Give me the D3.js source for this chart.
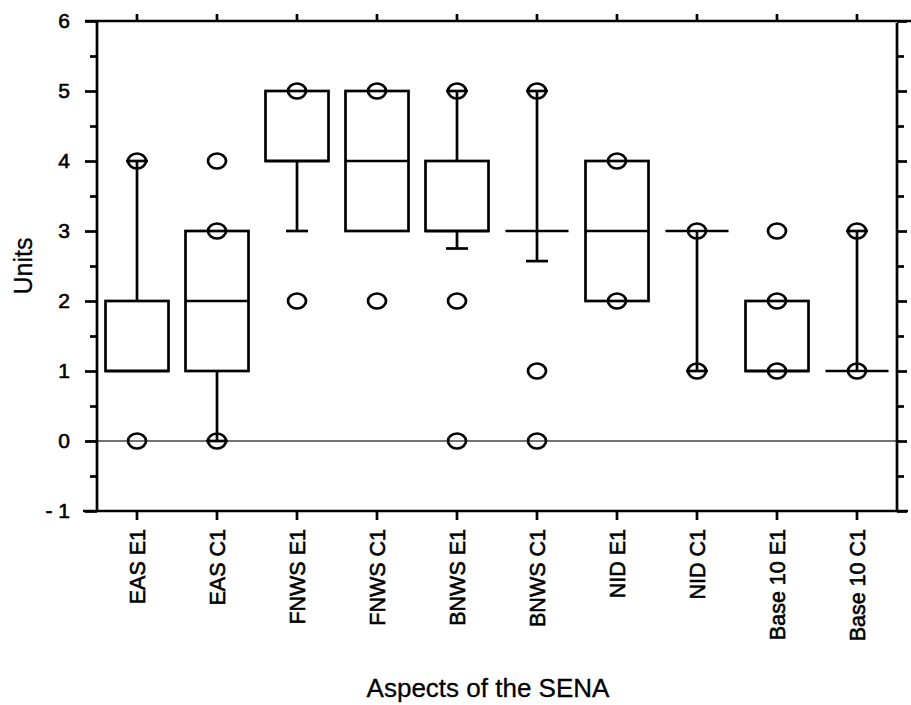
<!DOCTYPE html>
<html>
<head>
<meta charset="utf-8">
<script src="https://cdn.jsdelivr.net/npm/d3@7"></script>
<style>
  html, body { margin: 0; padding: 0; background: #fff; }
  svg { display: block; }
  text { font-family: "Liberation Sans", Arial, Helvetica, sans-serif; fill: #000; }
</style>
</head>
<body>
<svg id="chart" width="911" height="705"></svg>
<script>
// ---- data ----
const categories = ["EAS E1", "EAS C1", "FNWS E1", "FNWS C1", "BNWS E1", "BNWS C1", "NID E1", "NID C1", "Base 10 E1", "Base 10 C1"];
const q1Values = [1, 1, 4, 3, 3, 3, 2, 3, 1, 1];
const q3Values = [2, 3, 5, 5, 4, 3, 4, 3, 2, 1];
const medianValues = [1, 2, 4, 4, 3, 3, 3, 3, 1, 1];
const whiskerLow = [1, 0, 3, 3, 2.75, 2.57, 2, 1, 1, 1];
const whiskerHigh = [4, 3, 5, 5, 5, 5, 4, 3, 2, 3];
const outlierValues = [[0, 4], [0, 3, 4], [2, 5], [2, 5], [0, 2, 5], [0, 1, 5], [2, 4], [1, 3], [1, 2, 3], [1, 3]];
const yMajorTicks = [-1, 0, 1, 2, 3, 4, 5, 6];
const yMinorTicks = [-0.5, 0.5, 1.5, 2.5, 3.5, 4.5, 5.5];
const yTickLabels = ["- 1", "0", "1", "2", "3", "4", "5", "6"];
const xTitle = "Aspects of the SENA";
const yTitle = "Units";

// ---- layout ----
const svg = d3.select("#chart");
const mLeft = 97, mRight = 897, mTop = 21, mBottom = 511;
const lw = 2.7;

const x = d3.scaleBand().domain(categories).range([mLeft, mRight]).padding(0);
const y = d3.scaleLinear().domain([-1, 6]).range([mBottom, mTop]);
const cx = c => x(c) + x.bandwidth() / 2;

const boxW = 63, capW = 22;

// zero reference line
svg.append("line")
  .attr("x1", mLeft - 10).attr("x2", mRight)
  .attr("y1", y(0)).attr("y2", y(0))
  .attr("stroke", "#444").attr("stroke-width", 1.3);

// axes (ticks only)
function styleAxis(g) {
  g.select(".domain").remove();
  g.selectAll(".tick line").attr("stroke", "#000").attr("stroke-width", lw);
}
const fmt = d => yTickLabels[yMajorTicks.indexOf(d)];

const gl = svg.append("g").attr("transform", `translate(${mLeft},0)`)
  .call(d3.axisLeft(y).tickValues(yMajorTicks).tickSize(12).tickPadding(15).tickFormat(fmt));
styleAxis(gl);
gl.attr("font-size", 21).attr("font-family", "'Liberation Sans', Arial, sans-serif");
gl.selectAll(".tick text").attr("fill", "#000").attr("stroke", "#000").attr("stroke-width", 0.6);

const glm = svg.append("g").attr("transform", `translate(${mLeft},0)`)
  .call(d3.axisLeft(y).tickValues(yMinorTicks).tickSize(7).tickFormat(""));
styleAxis(glm);

const gr = svg.append("g").attr("transform", `translate(${mRight},0)`)
  .call(d3.axisRight(y).tickValues(yMajorTicks).tickSize(10).tickFormat(""));
styleAxis(gr);
const grm = svg.append("g").attr("transform", `translate(${mRight},0)`)
  .call(d3.axisRight(y).tickValues(yMinorTicks).tickSize(7).tickFormat(""));
styleAxis(grm);

const gt = svg.append("g").attr("transform", `translate(0,${mTop})`)
  .call(d3.axisTop(x).tickSize(7).tickFormat(""));
styleAxis(gt);
const gb = svg.append("g").attr("transform", `translate(0,${mBottom})`)
  .call(d3.axisBottom(x).tickSize(9).tickFormat(""));
styleAxis(gb);

// frame
const frame = svg.append("g").attr("stroke", "#000").attr("stroke-width", lw).attr("fill", "none");
frame.append("line").attr("x1", 85).attr("x2", 911).attr("y1", mTop).attr("y2", mTop);
frame.append("line").attr("x1", 83).attr("x2", 908).attr("y1", mBottom).attr("y2", mBottom);
frame.append("line").attr("x1", mLeft).attr("x2", mLeft).attr("y1", mTop).attr("y2", mBottom);
frame.append("line").attr("x1", mRight).attr("x2", mRight).attr("y1", mTop + 2).attr("y2", mBottom);

// boxes
const boxes = svg.append("g").attr("stroke", "#000").attr("stroke-width", lw).attr("fill", "none");
categories.forEach((c, i) => {
  const g = boxes.append("g");
  const xc = cx(c);
  const q1 = q1Values[i], q3 = q3Values[i];
  if (whiskerHigh[i] > q3) {
    g.append("line").attr("x1", xc).attr("x2", xc).attr("y1", y(q3)).attr("y2", y(whiskerHigh[i]));
    g.append("line").attr("x1", xc - capW / 2).attr("x2", xc + capW / 2).attr("y1", y(whiskerHigh[i])).attr("y2", y(whiskerHigh[i]));
  }
  if (whiskerLow[i] < q1) {
    g.append("line").attr("x1", xc).attr("x2", xc).attr("y1", y(q1)).attr("y2", y(whiskerLow[i]));
    g.append("line").attr("x1", xc - capW / 2).attr("x2", xc + capW / 2).attr("y1", y(whiskerLow[i])).attr("y2", y(whiskerLow[i]));
  }
  if (q3 > q1) {
    g.append("rect").attr("x", xc - boxW / 2).attr("width", boxW)
      .attr("y", y(q3)).attr("height", y(q1) - y(q3));
  }
  g.append("line").attr("x1", xc - boxW / 2).attr("x2", xc + boxW / 2)
    .attr("y1", y(medianValues[i])).attr("y2", y(medianValues[i]));
  g.selectAll("ellipse").data(outlierValues[i]).join("ellipse")
    .attr("cx", xc).attr("cy", d => y(d)).attr("rx", 9).attr("ry", 7.5);
});

// x labels
svg.append("g").selectAll("text").data(categories).join("text")
  .attr("transform", d => `translate(${cx(d)},529) rotate(-90)`)
  .attr("text-anchor", "end").attr("dy", "0.36em")
  .attr("font-size", 21.5).attr("stroke", "#000").attr("stroke-width", 0.6)
  .text(d => d);

// titles
svg.append("text").attr("x", 488).attr("y", 697).attr("text-anchor", "middle")
  .attr("font-size", 26).attr("stroke", "#000").attr("stroke-width", 0.3).text(xTitle);
svg.append("text").attr("transform", "translate(23,266) rotate(-90)")
  .attr("text-anchor", "middle").attr("dy", "0.36em")
  .attr("font-size", 25).attr("stroke", "#000").attr("stroke-width", 0.3).text(yTitle);
</script>
</body>
</html>
